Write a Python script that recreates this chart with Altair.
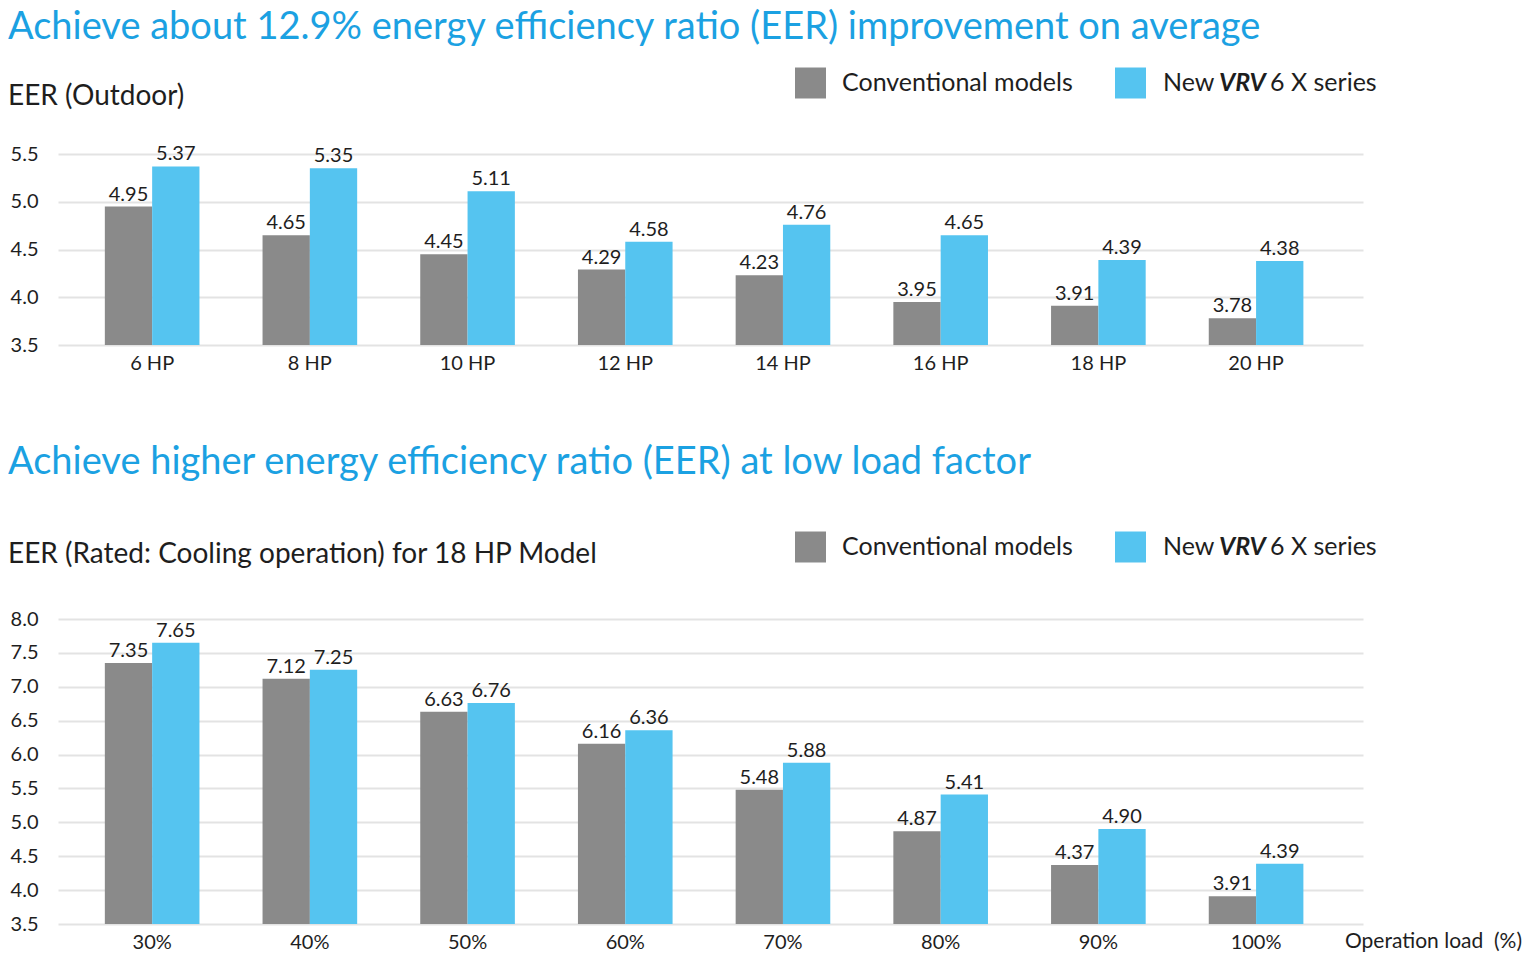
import altair as alt
import pandas as pd

FONT = "Lato"
GRAY = "#8A8A8A"
BLUE = "#55C4F0"
TITLE_BLUE = "#1BA1E2"
INK = "#1E1E1E"
GRID = "#E3E3E3"

SERIES = ["Conventional models", "New VRV 6 X series"]

# chart 1: EER per outdoor unit size
hp_models = ["6 HP", "8 HP", "10 HP", "12 HP", "14 HP", "16 HP", "18 HP", "20 HP"]
hp_conventional = [4.95, 4.65, 4.45, 4.29, 4.23, 3.95, 3.91, 3.78]
hp_new = [5.37, 5.35, 5.11, 4.58, 4.76, 4.65, 4.39, 4.38]
hp_ticks = [3.5, 4.0, 4.5, 5.0, 5.5]

# chart 2: EER per operation load, 18 HP model
load_levels = ["30%", "40%", "50%", "60%", "70%", "80%", "90%", "100%"]
load_conventional = [7.35, 7.12, 6.63, 6.16, 5.48, 4.87, 4.37, 3.91]
load_new = [7.65, 7.25, 6.76, 6.36, 5.88, 5.41, 4.90, 4.39]
load_ticks = [3.5, 4.0, 4.5, 5.0, 5.5, 6.0, 6.5, 7.0, 7.5, 8.0]

W = 1305
H1, H2 = 191, 305
ONE = pd.DataFrame({"k": [0]})


def to_long(cats, conv, new):
    rows = []
    for c, a, b in zip(cats, conv, new):
        rows.append({"cat": c, "series": SERIES[0], "value": a})
        rows.append({"cat": c, "series": SERIES[1], "value": b})
    return pd.DataFrame(rows)


def txt(s, x, y, size, **kw):
    return alt.Chart(ONE).mark_text(
        text=s, fontSize=size, color=INK, align="left", baseline="middle", **kw
    ).encode(x=alt.value(x), y=alt.value(y))


def square(color, x, y):
    return alt.Chart(ONE).mark_square(size=961, color=color, opacity=1).encode(
        x=alt.value(x), y=alt.value(y)
    )


def legend(y):
    return [
        square(GRAY, 752.5, y),
        txt("Conventional models", 784, y, 25),
        square(BLUE, 1072.5, y),
        txt("New", 1105, y, 25),
        txt("VRV", 1161, y, 25, fontWeight="bold", fontStyle="italic"),
        txt("6 X series", 1212, y, 25),
    ]


def panel(cats, conv, new, ticks):
    df = to_long(cats, conv, new)
    x = alt.X(
        "cat:N", sort=cats, title=None,
        scale=alt.Scale(paddingInner=0.4, paddingOuter=0.3375, align=0.44),
        axis=alt.Axis(labelAngle=0, domain=False, ticks=False, labelPadding=8,
                      labelFontSize=20, labelColor=INK, labelFont=FONT),
    )
    xo = alt.XOffset("series:N", sort=SERIES,
                     scale=alt.Scale(paddingInner=0, paddingOuter=0))
    y = alt.Y(
        "value:Q", title=None,
        scale=alt.Scale(domain=[ticks[0], ticks[-1]], zero=False, nice=False),
        axis=alt.Axis(values=ticks, format=".1f", domain=False, ticks=False,
                      labelPadding=20, labelFontSize=20, labelColor=INK,
                      labelFont=FONT, gridColor=GRID, gridWidth=2),
    )
    color = alt.Color("series:N", scale=alt.Scale(domain=SERIES, range=[GRAY, BLUE]),
                      legend=None)
    base = alt.Chart(df).encode(x=x, xOffset=xo, y=y)
    bars = base.mark_bar().encode(y2=alt.datum(ticks[0]), color=color)
    labels = base.mark_text(baseline="alphabetic", dy=-6, fontSize=20, color=INK).encode(
        text=alt.Text("value:Q", format=".2f")
    )
    return bars, labels


bars1, labels1 = panel(hp_models, hp_conventional, hp_new, hp_ticks)
top = alt.layer(
    bars1, labels1,
    txt("EER (Outdoor)", -50, -57, 28),
    *legend(-71),
).properties(
    width=W, height=H1,
    title=alt.TitleParams(
        "Achieve about 12.9% energy efficiency ratio (EER) improvement on average",
        anchor="start", fontSize=38, color=TITLE_BLUE, fontWeight="normal",
        font=FONT, offset=21,
    ),
)

bars2, labels2 = panel(load_levels, load_conventional, load_new, load_ticks)
bottom = alt.layer(
    bars2, labels2,
    txt("EER (Rated: Cooling operation) for 18 HP Model", -50, -64, 28),
    *legend(-72),
    alt.Chart(ONE).mark_text(text="Operation load\u00a0 (%)", fontSize=21, color=INK,
                             align="left", baseline="top")
    .encode(x=alt.value(1287), y=alt.value(H2 + 7)),
).properties(
    width=W, height=H2,
    title=alt.TitleParams(
        "Achieve higher energy efficiency ratio (EER) at low load factor",
        anchor="start", fontSize=38, color=TITLE_BLUE, fontWeight="normal",
        font=FONT, offset=50,
    ),
)

chart = (
    alt.vconcat(top, bottom, spacing=70)
    .resolve_scale(x="independent", y="independent")
    .properties(padding=0)
    .configure(font=FONT)
    .configure_view(strokeWidth=0)
)

chart.save("out.html", embed_options={"renderer": "svg", "actions": False})
